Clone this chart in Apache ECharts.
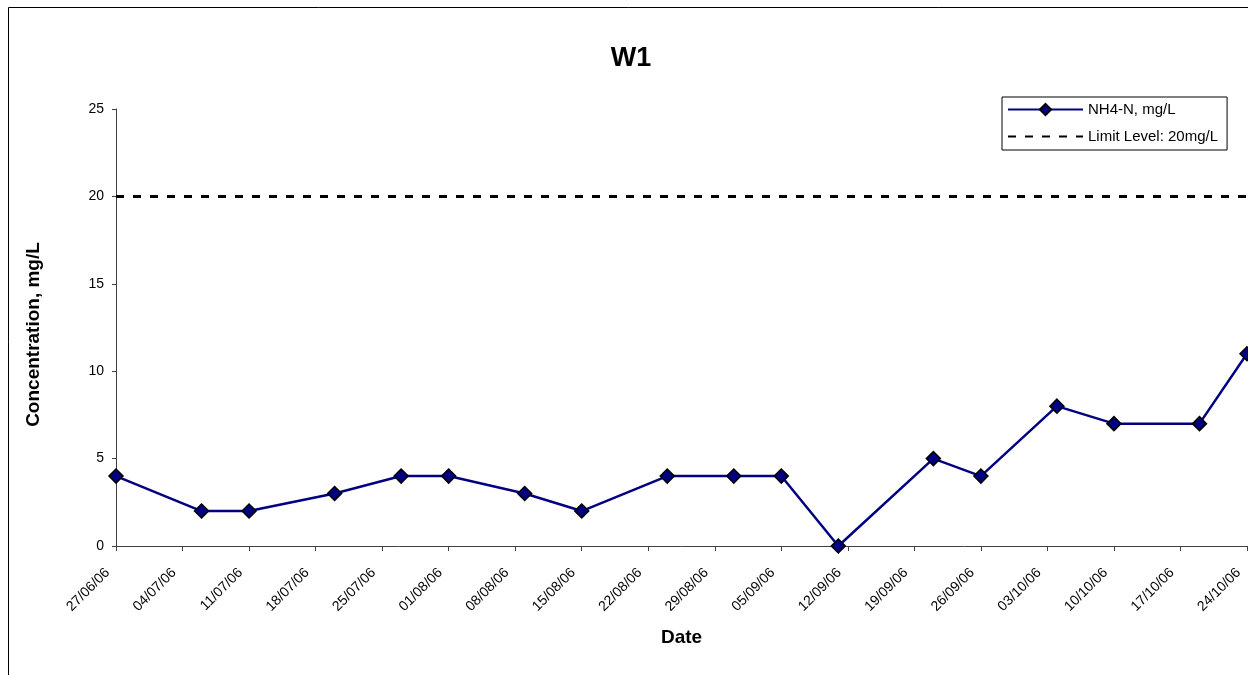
<!DOCTYPE html>
<html>
<head>
<meta charset="utf-8">
<script src="https://cdn.jsdelivr.net/npm/echarts@6/dist/echarts.min.js"></script>
<style>
html,body{margin:0;padding:0;background:#fff;}
#chart{width:1248px;height:675px;}
</style>
</head>
<body>
<div id="chart"></div>
<script>
// ---- data ----
var sampleDates = ['27/06/06','06/07/06','11/07/06','20/07/06','27/07/06','01/08/06','09/08/06','15/08/06','24/08/06','31/08/06','05/09/06','11/09/06','21/09/06','26/09/06','04/10/06','10/10/06','19/10/06','24/10/06'];
var nh4Values = [4,2,2,3,4,4,3,2,4,4,4,0,5,4,8,7,7,11];
var tickLabels = ['27/06/06','04/07/06','11/07/06','18/07/06','25/07/06','01/08/06','08/08/06','15/08/06','22/08/06','29/08/06','05/09/06','12/09/06','19/09/06','26/09/06','03/10/06','10/10/06','17/10/06','24/10/06'];
var limitValue = 20;
var seriesNames = ['NH4-N, mg/L', 'Limit Level: 20mg/L'];

function parseDay(s){
  var p = s.split('/');
  return Date.UTC(2000 + (+p[2]), (+p[1]) - 1, +p[0]);
}
var startMs = parseDay(tickLabels[0]);
function dayOffset(s){ return Math.round((parseDay(s) - startMs) / 86400000); }
var xMax = dayOffset(tickLabels[tickLabels.length - 1]);

var nh4Data = sampleDates.map(function(d, i){ return [dayOffset(d), nh4Values[i]]; });
var limitData = [[0, limitValue], [xMax, limitValue]];

var FONT = 'Liberation Sans, Arial, sans-serif';
var chart = echarts.init(document.getElementById('chart'), null, {renderer: 'canvas'});
chart.setOption({
  animation: false,
  backgroundColor: '#ffffff',
  graphic: [{
    type: 'rect', z: -1, silent: true,
    shape: {x: 8.5, y: 7.5, width: 1300, height: 720},
    style: {fill: 'none', stroke: '#000', lineWidth: 1}
  }],
  title: {
    text: 'W1', left: 626, top: 40, textAlign: 'center',
    textStyle: {fontFamily: FONT, fontSize: 27, fontWeight: 'bold', color: '#000'}
  },
  legend: {
    orient: 'vertical', left: 1002, top: 97,
    padding: [5, 9, 6, 5], itemGap: 12, itemWidth: 75, itemHeight: 14,
    borderColor: '#000', borderWidth: 1, borderRadius: 0,
    textStyle: {fontFamily: FONT, fontSize: 15, color: '#000'},
    data: [
      {name: seriesNames[0]},
      {name: seriesNames[1], itemStyle: {color: 'rgba(0,0,0,0)', borderWidth: 0, opacity: 0}}
    ]
  },
  grid: {left: 116, right: 1, top: 109, bottom: 129, containLabel: false, outerBoundsMode: 'none'},
  xAxis: {
    type: 'value', min: 0, max: xMax, interval: 7,
    name: 'Date', nameLocation: 'middle', nameGap: 82,
    nameTextStyle: {fontFamily: FONT, fontSize: 19, fontWeight: 'bold', color: '#000'},
    axisLine: {lineStyle: {color: '#404040', width: 1}},
    axisTick: {show: true, inside: false, length: 5, lineStyle: {color: '#404040'}},
    splitLine: {show: false},
    axisLabel: {
      rotate: 45, margin: 16, padding: [0, 12, 0, 0], fontFamily: FONT, fontSize: 14, color: '#000',
      formatter: function(v){ return tickLabels[Math.round(v / 7)] || ''; }
    }
  },
  yAxis: {
    type: 'value', min: 0, max: 25, interval: 5,
    name: 'Concentration, mg/L', nameLocation: 'middle', nameGap: 73,
    nameTextStyle: {fontFamily: FONT, fontSize: 19, fontWeight: 'bold', color: '#000', padding: [0, 14, 0, 0]},
    axisLine: {show: true, lineStyle: {color: '#404040', width: 1}},
    axisTick: {show: true, inside: false, length: 4, lineStyle: {color: '#404040'}},
    splitLine: {show: false},
    axisLabel: {margin: 12, fontFamily: FONT, fontSize: 14, color: '#000'}
  },
  series: [{
    name: seriesNames[0], type: 'line', data: nh4Data,
    symbol: 'diamond', symbolSize: 14, showAllSymbol: true,
    lineStyle: {color: '#000080', width: 2.5},
    itemStyle: {color: '#000080', borderColor: '#000', borderWidth: 1.5},
    z: 3, clip: false
  }, {
    name: seriesNames[1], type: 'line', data: limitData,
    symbol: 'none', showSymbol: false,
    lineStyle: {color: '#000', width: 3, type: [8, 9]},
    itemStyle: {color: '#000'},
    z: 2
  }]
});
</script>
</body>
</html>
